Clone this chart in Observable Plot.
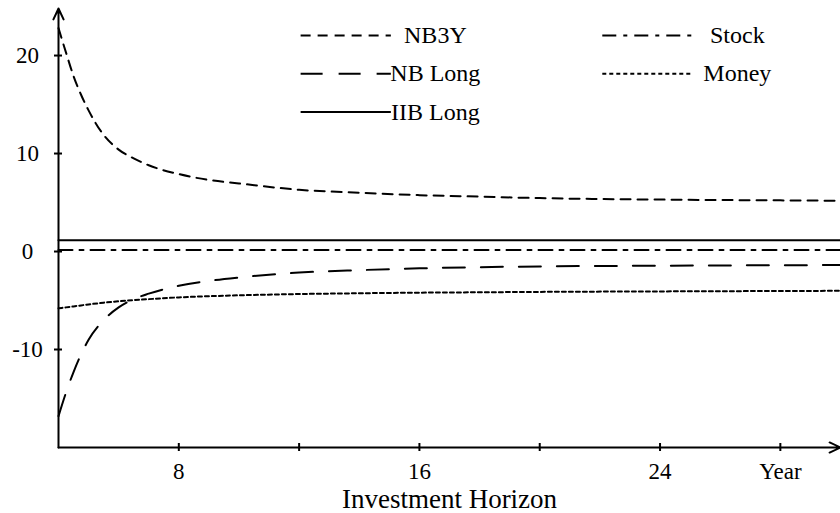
<!DOCTYPE html>
<html>
<head>
<meta charset="utf-8">
<script src="https://cdn.jsdelivr.net/npm/d3@7"></script>
<script src="https://cdn.jsdelivr.net/npm/@observablehq/plot@0.6"></script>
<style>
  html, body { margin: 0; padding: 0; background: #fff; }
  #chart svg, #chart svg text { font-family: "Liberation Serif", serif !important; }
</style>
</head>
<body>
<div id="chart"></div>
<script>
// ---- data ----
const years = [4, 4.25, 4.5, 4.75, 5, 5.5, 6, 6.5, 7, 8, 9, 10, 12, 14, 16, 18, 20, 24, 28, 30];
const nb3y    = [22.8, 20.3, 17.9, 16.0, 14.4, 11.9, 10.4, 9.5, 8.8, 7.9, 7.3, 6.95, 6.3, 6.0, 5.75, 5.6, 5.45, 5.3, 5.22, 5.18];
const nbLong  = [-16.8, -14.4, -12.3, -10.5, -9.0, -7.0, -5.7, -4.85, -4.3, -3.5, -3.0, -2.65, -2.15, -1.9, -1.72, -1.6, -1.52, -1.45, -1.4, -1.38];
const iibLong = [1.15, 1.15, 1.15, 1.15, 1.15, 1.15, 1.15, 1.15, 1.15, 1.15, 1.15, 1.15, 1.15, 1.15, 1.15, 1.15, 1.15, 1.15, 1.15, 1.15];
const stock   = [0.15, 0.15, 0.15, 0.15, 0.15, 0.15, 0.15, 0.15, 0.15, 0.15, 0.15, 0.15, 0.15, 0.15, 0.15, 0.15, 0.15, 0.15, 0.15, 0.15];
const money   = [-5.8, -5.7, -5.6, -5.5, -5.4, -5.22, -5.08, -4.96, -4.86, -4.68, -4.56, -4.47, -4.34, -4.26, -4.2, -4.16, -4.12, -4.07, -4.03, -4.01];

const seriesNames = ["NB3Y", "NB Long", "IIB Long", "Stock", "Money"];
const seriesValues = [nb3y, nbLong, iibLong, stock, money];

const xTicks = [8, 12, 16, 20, 24, 28];
const xTickLabels = ["8", "", "16", "", "24", "Year"];
const yTicks = [-10, 0, 10, 20];
const yTickLabels = ["-10", "0", "10", "20"];
const xTitle = "Investment Horizon";

// ---- styles / layout ----
const FONT = "Liberation Serif";
const dashes = {
  "NB3Y": "10,7",
  "NB Long": "22,16",
  "IIB Long": null,
  "Stock": "14,7,4,7",
  "Money": "4,3"
};
const xDomain = [4, 30];
const yDomain = [-20, 24.8];
// legend layout (in data units)
const legendCol = {"NB3Y": 0, "NB Long": 0, "IIB Long": 0, "Stock": 1, "Money": 1};
const legendRow = {"NB3Y": 0, "NB Long": 1, "IIB Long": 2, "Stock": 0, "Money": 1};
const legendX0 = [12.05, 22.08];
const legendLen = 3.0;
const legendTextX = [16.53, 26.57];
const legendY = [22.05, 18.15, 14.25];

const rows = seriesNames.flatMap((name, i) =>
  years.map((yr, j) => ({series: name, year: yr, value: seriesValues[i][j]}))
);

const lineMarks = seriesNames.map(name =>
  Plot.line(rows.filter(d => d.series === name), {
    x: "year", y: "value", curve: "monotone-x",
    stroke: "black", strokeWidth: 2, strokeDasharray: dashes[name]
  })
);

const legendMarks = seriesNames.flatMap(name => {
  const c = legendCol[name], r = legendRow[name];
  return [
    Plot.link([name], {
      x1: legendX0[c], x2: legendX0[c] + legendLen, y1: legendY[r], y2: legendY[r],
      stroke: "black", strokeWidth: 2, strokeDasharray: dashes[name]
    }),
    Plot.text([name], {
      x: legendTextX[c], y: legendY[r], text: d => d,
      textAnchor: "middle", lineAnchor: "middle", fontSize: 24, fontFamily: FONT, fill: "black"
    })
  ];
});

const chart = Plot.plot({
  width: 840,
  height: 513,
  marginLeft: 58,
  marginRight: 0,
  marginTop: 8,
  marginBottom: 66,
  x: {domain: xDomain},
  y: {domain: yDomain},
  style: {fontFamily: FONT, fontSize: "23px", color: "black", background: "white", overflow: "visible"},
  marks: [
    // axis lines with arrows
    Plot.arrow([0], {x1: xDomain[0], y1: yDomain[0], x2: xDomain[0], y2: yDomain[1], stroke: "black", strokeWidth: 2, headLength: 9, headAngle: 50}),
    Plot.arrow([0], {x1: xDomain[0], y1: yDomain[0], x2: xDomain[1], y2: yDomain[0], stroke: "black", strokeWidth: 2, headLength: 9, headAngle: 50}),
    // tick marks (crossing the axis)
    Plot.axisX({ticks: xTicks, tickSize: 8, dy: -4, strokeWidth: 2, tickFormat: () => "", label: null}),
    Plot.axisY({ticks: yTicks, tickSize: 8, dx: 4, strokeWidth: 2, tickFormat: () => "", label: null}),
    // tick labels
    Plot.axisX({ticks: xTicks, tickSize: 0, tickPadding: 15, fontFamily: FONT, fontSize: 23, tickFormat: d => xTickLabels[xTicks.indexOf(d)], label: null}),
    Plot.axisY({ticks: yTicks, tickSize: 0, tickPadding: 31, textAnchor: "middle", fontFamily: FONT, fontSize: 23, tickFormat: d => yTickLabels[yTicks.indexOf(d)], label: null}),
    Plot.text([xTitle], {frameAnchor: "bottom", dy: 52, lineAnchor: "middle", text: d => d, fontSize: 27, fontFamily: FONT, fill: "black"}),
    ...lineMarks,
    ...legendMarks
  ]
});
chart.setAttribute("font-family", FONT);
chart.querySelectorAll("text").forEach(t => { t.style.fontFamily = FONT; });
document.getElementById("chart").appendChild(chart);
</script>
</body>
</html>
